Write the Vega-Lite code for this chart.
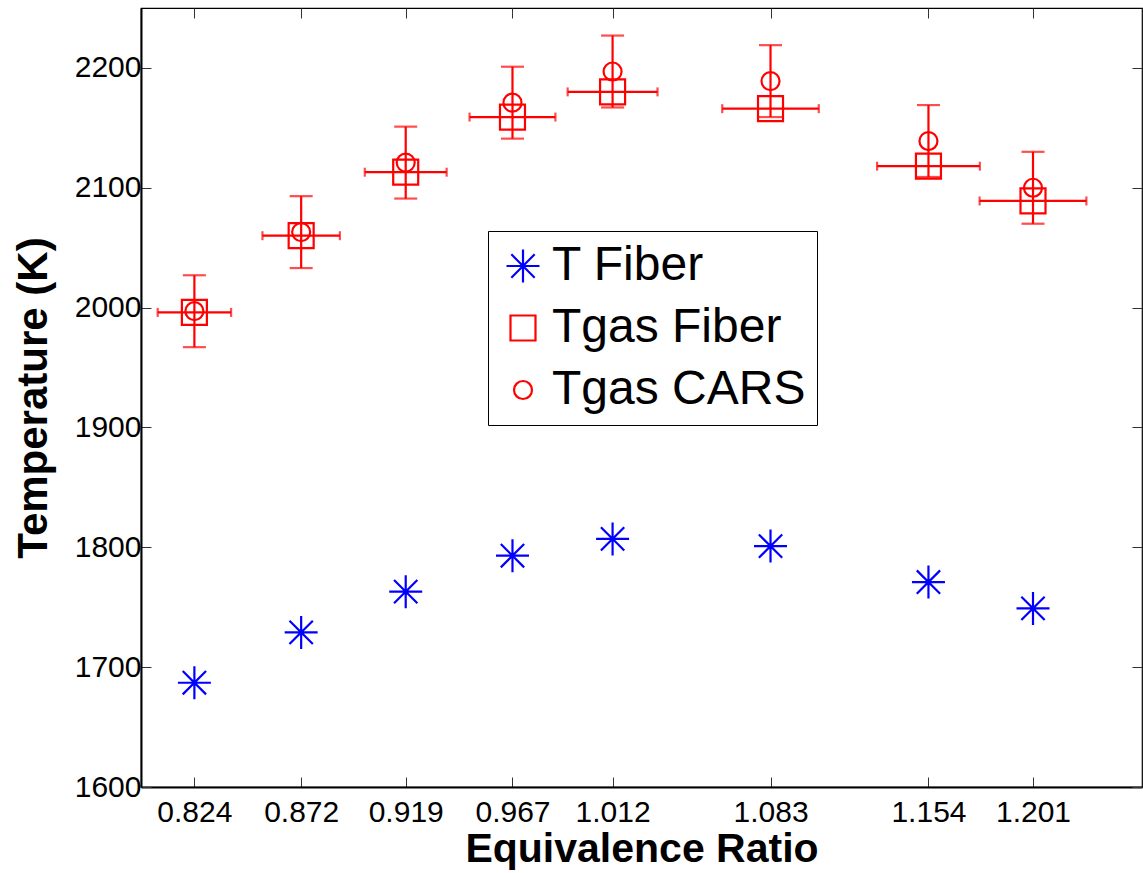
{
  "$schema": "https://vega.github.io/schema/vega-lite/v6.json",
  "width": 1001,
  "height": 779,
  "autosize": "none",
  "padding": {"left": 141, "top": 8, "right": 1, "bottom": 86},
  "background": "white",
  "config": {
    "font": "Liberation Sans",
    "view": {"stroke": "black", "strokeWidth": 1.2},
    "axis": {"grid": false, "labelColor": "black", "titleColor": "black", "tickColor": "#333333", "labelFont": "Liberation Sans", "titleFont": "Liberation Sans"}
  },
  "datasets": {
    "pts": [
      {"phi": 0.824, "T": 1687, "series": "T Fiber"},
      {"phi": 0.872, "T": 1729, "series": "T Fiber"},
      {"phi": 0.919, "T": 1763, "series": "T Fiber"},
      {"phi": 0.967, "T": 1793, "series": "T Fiber"},
      {"phi": 1.012, "T": 1807, "series": "T Fiber"},
      {"phi": 1.083, "T": 1801, "series": "T Fiber"},
      {"phi": 1.154, "T": 1771, "series": "T Fiber"},
      {"phi": 1.201, "T": 1749, "series": "T Fiber"},
      {"phi": 0.824, "T": 1996, "series": "Tgas Fiber"},
      {"phi": 0.872, "T": 2060, "series": "Tgas Fiber"},
      {"phi": 0.919, "T": 2113, "series": "Tgas Fiber"},
      {"phi": 0.967, "T": 2159, "series": "Tgas Fiber"},
      {"phi": 1.012, "T": 2180, "series": "Tgas Fiber"},
      {"phi": 1.083, "T": 2166, "series": "Tgas Fiber"},
      {"phi": 1.154, "T": 2118, "series": "Tgas Fiber"},
      {"phi": 1.201, "T": 2089, "series": "Tgas Fiber"},
      {"phi": 0.824, "T": 1997, "series": "Tgas CARS"},
      {"phi": 0.872, "T": 2063, "series": "Tgas CARS"},
      {"phi": 0.919, "T": 2121, "series": "Tgas CARS"},
      {"phi": 0.967, "T": 2171, "series": "Tgas CARS"},
      {"phi": 1.012, "T": 2197, "series": "Tgas CARS"},
      {"phi": 1.083, "T": 2189, "series": "Tgas CARS"},
      {"phi": 1.154, "T": 2139, "series": "Tgas CARS"},
      {"phi": 1.201, "T": 2100, "series": "Tgas CARS"}
    ],
    "cars": [
      {"phi": 0.824, "lo": 1967, "hi": 2027},
      {"phi": 0.872, "lo": 2033, "hi": 2093},
      {"phi": 0.919, "lo": 2091, "hi": 2151},
      {"phi": 0.967, "lo": 2141, "hi": 2201},
      {"phi": 1.012, "lo": 2167, "hi": 2227},
      {"phi": 1.083, "lo": 2159, "hi": 2219},
      {"phi": 1.154, "lo": 2109, "hi": 2169},
      {"phi": 1.201, "lo": 2070, "hi": 2130}
    ],
    "fib": [
      {"T": 1996, "lo": 0.8075, "hi": 0.8405},
      {"T": 2060, "lo": 0.8546, "hi": 0.8894},
      {"T": 2113, "lo": 0.9006, "hi": 0.9374},
      {"T": 2159, "lo": 0.9477, "hi": 0.9863},
      {"T": 2180, "lo": 0.9918, "hi": 1.0322},
      {"T": 2166, "lo": 1.0613, "hi": 1.1047},
      {"T": 2118, "lo": 1.1309, "hi": 1.1771},
      {"T": 2089, "lo": 1.1770, "hi": 1.2250}
    ]
  },
  "resolve": {"axis": {"x": "independent", "y": "independent"}},
  "layer": [
    {
      "data": {"name": "cars"},
      "mark": {"type": "rule", "color": "#ff0000", "strokeWidth": 2.2},
      "encoding": {
        "x": {"field": "phi", "type": "quantitative",
          "scale": {"domain": [0.8, 1.25], "nice": false, "zero": false},
          "axis": {"orient": "bottom", "values": [0.824, 0.872, 0.919, 0.967, 1.012, 1.083, 1.154, 1.201], "format": ".3f",
            "title": "Equivalence Ratio", "titleFontSize": 41, "titleFontWeight": "bold", "titlePadding": 2,
            "labelFontSize": 30, "labelPadding": 20, "tickSize": -10, "tickWidth": 1, "domain": true, "domainColor": "black", "domainWidth": 2,
            "labelFlush": false, "labelOverlap": false}},
        "y": {"field": "lo", "type": "quantitative",
          "scale": {"domain": [1600, 2250], "nice": false, "zero": false},
          "axis": {"orient": "left", "values": [1600, 1700, 1800, 1900, 2000, 2100, 2200], "format": "d",
            "title": "Temperature (K)", "titleFontSize": 42, "titleFontWeight": "bold", "titlePadding": 19,
            "labelFontSize": 30, "labelPadding": 10, "tickSize": -10, "tickWidth": 1, "domain": true, "domainColor": "black", "domainWidth": 2,
            "labelFlush": false, "labelOverlap": false}},
        "y2": {"field": "hi"}
      }
    },
    {
      "data": {"name": "cars"},
      "mark": {"type": "tick", "orient": "horizontal", "color": "#ff0000", "size": 23, "thickness": 2.2},
      "encoding": {
        "x": {"field": "phi", "type": "quantitative", "axis": null},
        "y": {"field": "lo", "type": "quantitative", "axis": null}
      }
    },
    {
      "data": {"name": "cars"},
      "mark": {"type": "tick", "orient": "horizontal", "color": "#ff0000", "size": 23, "thickness": 2.2},
      "encoding": {
        "x": {"field": "phi", "type": "quantitative", "axis": null},
        "y": {"field": "hi", "type": "quantitative", "axis": null}
      }
    },
    {
      "data": {"name": "fib"},
      "mark": {"type": "rule", "color": "#ff0000", "strokeWidth": 2.2},
      "encoding": {
        "x": {"field": "lo", "type": "quantitative", "axis": null},
        "x2": {"field": "hi"},
        "y": {"field": "T", "type": "quantitative", "axis": null}
      }
    },
    {
      "data": {"name": "fib"},
      "mark": {"type": "tick", "orient": "vertical", "color": "#ff0000", "size": 9, "thickness": 2.2},
      "encoding": {
        "x": {"field": "lo", "type": "quantitative", "axis": null},
        "y": {"field": "T", "type": "quantitative", "axis": null}
      }
    },
    {
      "data": {"name": "fib"},
      "mark": {"type": "tick", "orient": "vertical", "color": "#ff0000", "size": 9, "thickness": 2.2},
      "encoding": {
        "x": {"field": "hi", "type": "quantitative", "axis": null},
        "y": {"field": "T", "type": "quantitative", "axis": null}
      }
    },
    {
      "data": {"name": "pts"},
      "mark": {"type": "point", "filled": false, "strokeWidth": 2.2, "opacity": 1},
      "encoding": {
        "x": {"field": "phi", "type": "quantitative",
          "axis": {"orient": "top", "values": [0.824, 0.872, 0.919, 0.967, 1.012, 1.083, 1.154, 1.201], "labels": false, "title": null, "tickSize": -10, "tickWidth": 1, "domain": false}},
        "y": {"field": "T", "type": "quantitative",
          "axis": {"orient": "right", "values": [1600, 1700, 1800, 1900, 2000, 2100, 2200], "labels": false, "title": null, "tickSize": -10, "tickWidth": 1, "domain": false}},
        "color": {"field": "series", "type": "nominal",
          "scale": {"domain": ["T Fiber", "Tgas Fiber", "Tgas CARS"], "range": ["#0000ff", "#ff0000", "#ff0000"]},
          "legend": {"orient": "none", "legendX": 347, "legendY": 223, "title": null, "labelFontSize": 48, "labelFont": "Liberation Sans", "labelColor": "black", "labelLimit": 600,
            "strokeColor": "black", "fillColor": "white", "padding": 11, "rowPadding": 14, "labelOffset": 5, "symbolOffset": 0, "symbolStrokeWidth": 2.2, "cornerRadius": 0}},
        "shape": {"field": "series", "type": "nominal",
          "scale": {"domain": ["T Fiber", "Tgas Fiber", "Tgas CARS"], "range": ["M-1,0L1,0M0,-1L0,1M-0.7071,-0.7071L0.7071,0.7071M-0.7071,0.7071L0.7071,-0.7071", "square", "circle"]},
          "legend": {"orient": "none", "legendX": 347, "legendY": 223, "title": null, "labelFontSize": 48, "labelFont": "Liberation Sans", "labelColor": "black", "labelLimit": 600,
            "strokeColor": "black", "fillColor": "white", "padding": 11, "rowPadding": 14, "labelOffset": 5, "symbolOffset": 0, "symbolStrokeWidth": 2.2, "cornerRadius": 0}},
        "size": {"field": "series", "type": "ordinal",
          "scale": {"type": "ordinal", "domain": ["T Fiber", "Tgas Fiber", "Tgas CARS"], "range": [1089, 625, 324]},
          "legend": {"orient": "none", "legendX": 347, "legendY": 223, "title": null, "labelFontSize": 48, "labelFont": "Liberation Sans", "labelColor": "black", "labelLimit": 600,
            "strokeColor": "black", "fillColor": "white", "padding": 11, "rowPadding": 14, "labelOffset": 5, "symbolOffset": 0, "symbolStrokeWidth": 2.2, "cornerRadius": 0}}
      }
    }
  ]
}
